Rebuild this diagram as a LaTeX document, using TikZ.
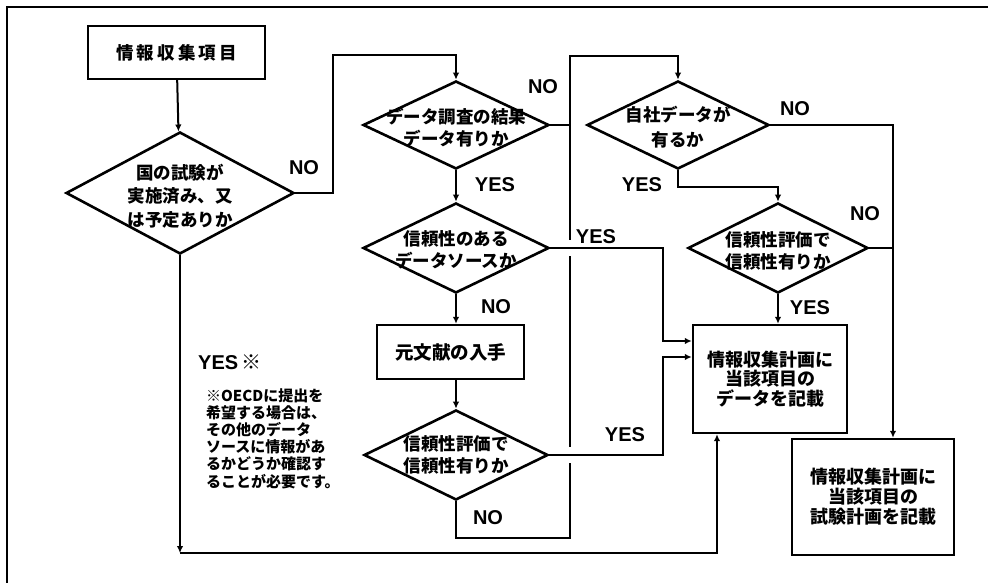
\documentclass[tikz,border=0pt]{standalone}
\usepackage{fontspec}
\setmainfont{Liberation Sans}
\newfontfamily\jp{Noto Sans CJK JP}
\newfontfamily\jpwide{Noto Sans CJK JP}[LetterSpace=18]
\usetikzlibrary{shapes.geometric,arrows.meta}
\begin{document}
\begin{tikzpicture}[x=1pt,y=-1pt,
  conn/.style={line width=2pt},
  arr/.style={conn,-{Latex[length=7pt,width=6.5pt]}},
  dia/.style={diamond,draw,line width=2.6pt,fill=white,inner sep=0pt},
  dtext/.style={font=\jp\bfseries\fontsize{17.5}{22}\selectfont,align=center,inner sep=0pt},
  box/.style={rectangle,draw,line width=2.4pt,fill=white,inner sep=0pt},
  btext/.style={font=\jp\bfseries\fontsize{18}{19.5}\selectfont,align=center},
  lab/.style={font=\bfseries\fontsize{20}{24}\selectfont,inner sep=0pt},
  frame/.style={line width=1.8pt}
]
\useasboundingbox (0,0) rectangle (988,583);
% partial frame
\coordinate (ftl) at (7,7);
\coordinate (ftr) at (988,7);
\coordinate (fbl) at (7,583);
\draw[frame] (ftr) -- (ftl) -- (fbl);

% nodes
\node[box,minimum width=177,minimum height=53,font=\jpwide\bfseries\fontsize{17.5}{19}\selectfont] (b1) at (176.5,52.5) {情報収集項目};
\node[dia,minimum width=228,minimum height=122,
  label={[dtext,font=\jp\bfseries\fontsize{17.5}{23.5}\selectfont,yshift=-3pt]center:{国の試験が\\実施済み、又\\は予定ありか}}] (d1) at (180,193) {};
\node[dia,minimum width=186,minimum height=88,
  label={[dtext,yshift=-3pt]center:{データ調査の結果\\データ有りか}}] (d2) at (456,125) {};
\node[dia,minimum width=186,minimum height=90,
  label={[dtext,yshift=-2pt]center:{信頼性のある\\データソースか}}] (d4) at (456,248) {};
\node[box,minimum width=147,minimum height=54,font=\jp\bfseries\fontsize{18.5}{20}\selectfont] (b5) at (450.5,352) {元文献の入手};
\node[dia,minimum width=184,minimum height=90,
  label={[dtext]center:{信頼性評価で\\信頼性有りか}}] (d5) at (456,455) {};
\node[dia,minimum width=182,minimum height=88,
  label={[dtext,font=\jp\bfseries\fontsize{17.5}{25}\selectfont,yshift=-2pt]center:{自社データが\\有るか}}] (d3) at (678,125) {};
\node[dia,minimum width=180,minimum height=90,
  label={[dtext,yshift=-3pt]center:{信頼性評価で\\信頼性有りか}}] (d6) at (778,248) {};
\node[box,minimum width=154,minimum height=108,btext] (b9) at (770,379) {情報収集計画に\\当該項目の\\データを記載};
\node[box,minimum width=162,minimum height=116,btext,font=\jp\bfseries\fontsize{18}{20}\selectfont] (b10) at (873,497) {情報収集計画に\\当該項目の\\試験計画を記載};

\coordinate (c1) at (180,553);

% connectors
\draw[arr] (b1) -- (d1);
\draw[arr] (d1.east) -| (333,55) -| (d2.north);
\draw[arr] (d2) -- (d4);
\draw[conn] (d2.east) -- (570,125);
\draw[arr] (d4) -- (d4.south |- b5.north);
\draw[arr] (d5.north |- b5.south) -- (d5);
% long NO loop
\draw[arr] (d5.south) |- (570,538) -- (570,56) -| (d3.north);
% bridges (gaps in the vertical line)
\fill[white] (565,240) rectangle (575,256);
\fill[white] (565,447) rectangle (575,463);
\draw[arr] (d4.east) -| (663,341) -- ([yshift=38pt]b9.west);
\draw[arr] (d5.east) -| (663,357) -- ([yshift=22pt]b9.west);
\draw[arr] (d3.east) -| ([xshift=20pt]b10.north);
\draw[conn] (d6.east) -- (893,248);
\draw[arr] (d3.south) -- (678,187) -| (d6.north);
\draw[arr] (d6.south) -- (d6.south |- b9.north);
\draw[arr] (d1.south) -- (c1);
\draw[arr] (c1) -| ([xshift=-53pt]b9.south);

% labels
\node[lab] (l1) at (304,168) {NO};
\node[lab] (l2) at (543,87) {NO};
\node[lab] (l3) at (495,185) {YES};
\node[lab] (l4) at (596,237) {YES};
\node[lab] (l5) at (496,307) {NO};
\node[lab] (l6) at (625,435) {YES};
\node[lab] (l7) at (488,518) {NO};
\node[lab] (l8) at (795,109) {NO};
\node[lab] (l9) at (642,185) {YES};
\node[lab] (l10) at (865,214) {NO};
\node[lab] (l11) at (810,308) {YES};
\node[lab,anchor=west] (l12) at (198,362) {YES\,{\jp ※}};
\node[anchor=north west,align=left,inner sep=0pt,font=\jp\bfseries\fontsize{15}{17.2}\selectfont] (note) at (206,388) {※OECDに提出を\\希望する場合は、\\その他のデータ\\ソースに情報があ\\るかどうか確認す\\ることが必要です。};
\end{tikzpicture}
\end{document}
